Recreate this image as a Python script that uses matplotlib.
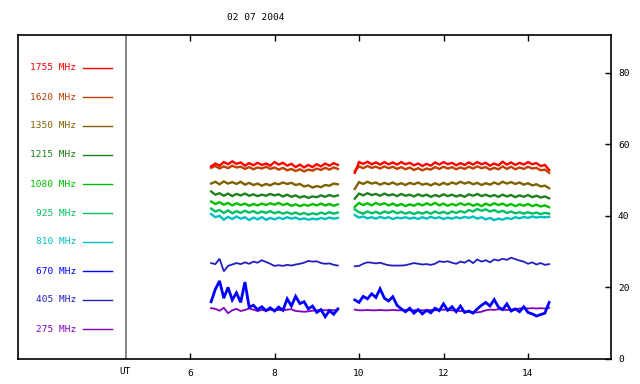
import matplotlib
matplotlib.use("Agg")
import matplotlib.pyplot as plt
from matplotlib.lines import Line2D
import numpy as np

# sample times (UT hours) of the two observing segments
t1 = np.round(np.arange(6.5, 9.55, 0.1), 2)
t2 = np.round(np.arange(9.9, 14.55, 0.1), 2)

freqs = ['1755', '1620', '1350', '1215', '1080', '925', '810', '670', '405', '275']
colors = ['#ff0000', '#c04000', '#806000', '#208020', '#00c000',
          '#00c060', '#00c0c0', '#0000ff', '#2020c0', '#8000c0']

# flux readings, first segment / second segment
f1755_a = [53.8, 54.6, 54.0, 55.0, 54.4, 55.2, 54.5, 54.9, 54.0, 54.7, 54.1, 54.8, 54.2, 54.6, 54.0, 55.0,
           54.3, 54.8, 54.0, 54.5, 53.6, 54.3, 53.5, 54.2, 53.6, 54.4, 53.8, 54.6, 54.0, 54.7, 54.2]
f1755_b = [52.0, 55.0, 54.5, 55.1, 54.4, 54.9, 54.3, 55.0, 54.4, 54.9, 54.3, 55.0, 54.4, 54.8, 54.1, 54.6,
           53.9, 54.5, 54.0, 54.9, 54.3, 55.0, 54.4, 54.8, 54.1, 54.7, 54.2, 54.9, 54.3, 55.0, 54.4, 54.8,
           54.0, 54.6, 54.1, 55.1, 54.3, 54.9, 54.2, 54.8, 54.3, 55.0, 54.4, 54.7, 53.9, 54.2, 52.8]
f1620_a = [53.4, 53.9, 53.2, 53.8, 53.3, 54.0, 53.5, 53.7, 53.1, 53.6, 53.0, 53.5, 53.2, 53.7, 53.1, 53.5,
           52.9, 53.4, 52.7, 53.1, 52.5, 53.0, 52.4, 52.9, 52.6, 53.2, 52.8, 53.4, 52.9, 53.5, 53.1]
f1620_b = [52.5, 53.8, 53.3, 53.9, 53.4, 53.7, 53.2, 53.8, 53.3, 53.7, 53.1, 53.6, 53.0, 53.5, 52.8, 53.3,
           52.7, 53.2, 52.9, 53.6, 53.1, 53.7, 53.2, 53.6, 53.0, 53.5, 53.1, 53.7, 53.2, 53.8, 53.3, 53.6,
           52.9, 53.4, 53.0, 53.8, 53.1, 53.7, 53.0, 53.5, 53.1, 53.7, 53.2, 53.4, 52.7, 52.9, 52.0]
f1350_a = [49.0, 49.5, 48.8, 49.6, 49.0, 49.4, 48.9, 49.5, 48.7, 49.2, 48.6, 49.0, 48.4, 48.9, 48.5, 49.1,
           48.8, 49.3, 48.9, 49.2, 48.6, 48.9, 48.2, 48.5, 47.9, 48.3, 48.0, 48.6, 48.4, 49.0, 48.8]
f1350_b = [47.5, 49.4, 48.9, 49.5, 49.0, 49.3, 48.7, 49.2, 48.8, 49.3, 48.7, 49.1, 48.6, 49.2, 48.8, 49.3,
           48.7, 49.0, 48.5, 49.1, 48.6, 49.2, 48.7, 49.3, 48.9, 49.5, 49.0, 49.4, 48.8, 49.2, 48.6, 49.1,
           48.7, 49.3, 48.8, 49.5, 49.0, 49.4, 48.9, 49.3, 48.7, 49.1, 48.5, 48.8, 48.2, 48.4, 47.7]
f1215_a = [46.8, 45.9, 46.3, 45.6, 46.2, 45.5, 46.1, 45.7, 46.2, 45.6, 46.0, 45.5, 45.9, 45.6, 46.1, 45.7,
           46.0, 45.4, 45.9, 45.3, 45.7, 45.1, 45.5, 45.0, 45.4, 45.2, 45.7, 45.3, 45.8, 45.4, 45.7]
f1215_b = [44.8, 46.2, 45.7, 46.3, 45.8, 46.1, 45.6, 46.2, 45.7, 46.0, 45.5, 46.1, 45.6, 45.9, 45.4, 46.0,
           45.5, 45.9, 45.3, 45.8, 45.4, 46.0, 45.5, 45.9, 45.4, 45.8, 45.3, 46.0, 45.6, 46.1, 45.5, 45.9,
           45.4, 45.8, 45.3, 45.9, 45.4, 45.8, 45.2, 45.7, 45.3, 45.8, 45.2, 45.6, 45.1, 45.4, 44.9]
f1080_a = [44.0, 43.3, 43.8, 43.1, 43.6, 42.9, 43.5, 43.0, 43.4, 42.8, 43.3, 42.9, 43.4, 43.0, 43.5, 43.1,
           43.6, 43.0, 43.4, 42.8, 43.2, 42.7, 43.1, 42.8, 43.3, 42.9, 43.4, 42.9, 43.3, 42.8, 43.2]
f1080_b = [42.5, 43.6, 43.0, 43.5, 42.9, 43.6, 43.1, 43.5, 42.9, 43.4, 42.8, 43.3, 42.7, 43.2, 42.8, 43.4,
           42.9, 43.5, 43.0, 43.6, 42.9, 43.4, 42.8, 43.3, 42.9, 43.5, 43.0, 43.4, 42.8, 43.3, 42.7, 43.4,
           42.9, 43.5, 43.0, 43.4, 42.8, 43.3, 42.7, 43.2, 42.8, 43.3, 42.7, 43.1, 42.6, 42.9, 42.4]
f925_a = [42.0, 41.2, 41.6, 40.8, 41.5, 40.7, 41.3, 40.8, 41.4, 40.9, 41.3, 40.7, 41.2, 40.8, 41.3, 40.7,
          41.1, 40.6, 41.0, 40.5, 40.9, 40.4, 40.8, 40.3, 40.7, 40.4, 40.9, 40.5, 41.0, 40.6, 40.9]
f925_b = [41.8, 41.0, 40.6, 41.2, 40.7, 41.1, 40.6, 41.2, 40.8, 41.3, 40.7, 41.1, 40.6, 41.0, 40.5, 41.0,
          40.6, 41.1, 40.6, 41.2, 40.7, 41.1, 40.6, 41.2, 40.8, 41.3, 40.9, 41.6, 41.2, 41.9, 41.4, 41.8,
          41.2, 41.6, 41.0, 41.4, 40.8, 41.2, 40.7, 41.0, 40.6, 41.0, 40.6, 40.9, 40.5, 40.8, 40.6]
f810_a = [40.5, 39.6, 40.0, 38.9, 39.7, 39.1, 39.8, 39.2, 39.6, 38.8, 39.5, 39.0, 39.6, 38.9, 39.4, 39.0,
          39.5, 39.1, 39.6, 39.2, 39.5, 39.0, 39.3, 38.9, 39.2, 39.0, 39.4, 39.1, 39.5, 39.2, 39.4]
f810_b = [40.2, 39.5, 39.8, 39.3, 39.6, 39.2, 39.7, 39.3, 39.6, 39.1, 39.5, 39.3, 39.6, 39.2, 39.5, 39.1,
          39.6, 39.2, 39.7, 39.3, 39.6, 39.1, 39.5, 39.2, 39.6, 39.3, 39.7, 39.4, 39.8, 39.2, 39.6, 39.0,
          39.4, 38.8, 39.2, 38.9, 39.4, 39.1, 39.6, 39.3, 39.7, 39.4, 39.8, 39.5, 39.7, 39.6, 39.7]
f670_a = [16.0, 19.5, 21.8, 17.0, 20.0, 16.5, 18.5, 15.8, 21.5, 14.5, 15.0, 13.8, 14.6, 13.5, 14.3, 13.4,
          14.5, 13.6, 16.8, 14.8, 17.5, 15.5, 16.0, 14.0, 14.8, 13.0, 13.8, 11.8, 13.5, 12.5, 14.0]
f670_b = [16.5, 15.8, 17.5, 16.8, 18.2, 17.2, 19.6, 17.0, 16.2, 17.4, 15.0, 14.0, 13.2, 14.2, 12.8, 13.8,
          12.6, 13.6, 12.9, 14.2, 13.5, 15.4, 13.6, 14.6, 13.2, 14.8, 13.0, 13.4, 12.8, 14.0, 15.0, 15.8,
          14.8, 16.6, 14.5, 13.8, 15.4, 13.4, 14.0, 13.2, 14.6, 13.0, 12.6, 12.0, 12.4, 12.8, 15.8]
f405_a = [26.8, 26.5, 28.0, 24.5, 26.0, 26.4, 26.8, 26.5, 27.0, 26.6, 27.2, 26.9, 27.6, 27.1, 26.6, 26.0,
          26.2, 26.0, 26.3, 26.1, 26.4, 26.6, 26.9, 27.4, 27.2, 27.3, 26.8, 26.6, 26.7, 26.3, 26.1]
f405_b = [25.9, 26.0, 26.6, 27.0, 26.9, 26.7, 26.9, 26.5, 26.2, 26.1, 26.1, 26.1, 26.2, 26.5, 26.8, 26.6,
          26.4, 26.5, 26.3, 26.6, 27.3, 27.1, 27.3, 26.9, 26.6, 27.2, 26.9, 27.6, 26.8, 27.8, 27.2, 27.6,
          27.0, 27.8, 27.5, 28.0, 27.7, 28.3, 27.9, 27.5, 27.2, 26.6, 27.0, 26.4, 26.8, 26.3, 26.5]
f275_a = [14.2, 14.0, 13.5, 14.3, 12.8, 13.6, 14.0, 13.4, 13.7, 14.1, 13.8, 13.4, 13.7, 13.5, 13.8, 13.6,
          13.7, 13.6, 13.8, 13.9, 13.4, 13.3, 13.2, 13.3, 13.5, 13.6, 13.7, 13.6, 13.7, 13.6, 13.7]
f275_b = [13.8, 13.6, 13.6, 13.7, 13.6, 13.6, 13.7, 13.6, 13.6, 13.7, 13.6, 13.6, 13.7, 13.6, 13.6, 13.7,
          13.6, 13.6, 13.7, 13.6, 13.7, 13.8, 13.7, 13.6, 13.5, 13.4, 13.3, 13.2, 13.1, 13.0, 13.2, 13.6,
          13.8, 13.7, 13.9, 13.8, 13.7, 13.8, 13.9, 14.1, 14.2, 14.1, 14.2, 14.1, 14.2, 14.1, 14.3]

series = {
    '1755': (f1755_a, f1755_b), '1620': (f1620_a, f1620_b), '1350': (f1350_a, f1350_b),
    '1215': (f1215_a, f1215_b), '1080': (f1080_a, f1080_b), '925': (f925_a, f925_b),
    '810': (f810_a, f810_b), '670': (f670_a, f670_b), '405': (f405_a, f405_b),
    '275': (f275_a, f275_b),
}

date_label = '02 07 2004'
xticks = [6, 8, 10, 12, 14]
yticks = [0, 20, 40, 60, 80]

textsize = 6.8
plt.rcParams['font.family'] = 'DejaVu Sans Mono'

W, H = 640, 384
# frame in pixels: left 18, right 611, top 35, bottom 359
left_px, right_px, top_px, bot_px = 18, 611, 35, 359
px_per_h = 42.25
x6_px = 190
fig = plt.figure(figsize=(6.4, 3.84), dpi=100)
ax = fig.add_axes([left_px / W, (H - bot_px) / H, (right_px - left_px) / W, (bot_px - top_px) / H])

# draw order: low bands first so the red stays on top
t_all = np.concatenate([t1, [np.nan], t2])
line_w = {'670': 2.0, '405': 1.3, '275': 1.3}
for f, c in reversed(list(zip(freqs, colors))):
    a, b = series[f]
    y = np.concatenate([a, [np.nan], b])
    ax.plot(t_all, y, color=c, lw=line_w.get(f, 1.7), solid_joinstyle='miter')

ax.set_xlim(6 - (x6_px - left_px) / px_per_h, 6 + (right_px - x6_px) / px_per_h)
ax.set_ylim(0, 90.5)
ut_x = 6 - (x6_px - 125.5) / px_per_h
ax.axvline(ut_x, color='#707070', lw=1.2)

ax.set_xticks(xticks)
ax.set_xticklabels([str(x) for x in xticks], fontsize=textsize)
ax.tick_params(axis='x', direction='in', length=4, top=True, width=1, pad=7)
ax.yaxis.tick_right()
ax.set_yticks(yticks)
ax.set_yticklabels([str(v) for v in yticks], fontsize=textsize)
ax.tick_params(axis='y', which='both', direction='in', length=4, width=1, pad=5,
               left=False, right=True)
for s in ax.spines.values():
    s.set_linewidth(1.2)

ax.text(ut_x, -13 / (bot_px - top_px), 'UT', transform=ax.get_xaxis_transform(),
        ha='center', va='center', fontsize=textsize)
fig.text(256 / W, 1 - 17 / H, date_label, ha='center', va='center', fontsize=textsize)

# legend column on the left
y0, dy = 68, 29
for i, (f, c) in enumerate(zip(freqs, colors)):
    yp = 1 - (y0 + i * dy) / H
    fig.text(76 / W, yp, f + ' MHz', color=c, ha='right', va='center', fontsize=textsize)
    fig.add_artist(Line2D([83 / W, 112 / W], [yp, yp], color=c, lw=1, transform=fig.transFigure))

fig.savefig('out.png', dpi=100)
